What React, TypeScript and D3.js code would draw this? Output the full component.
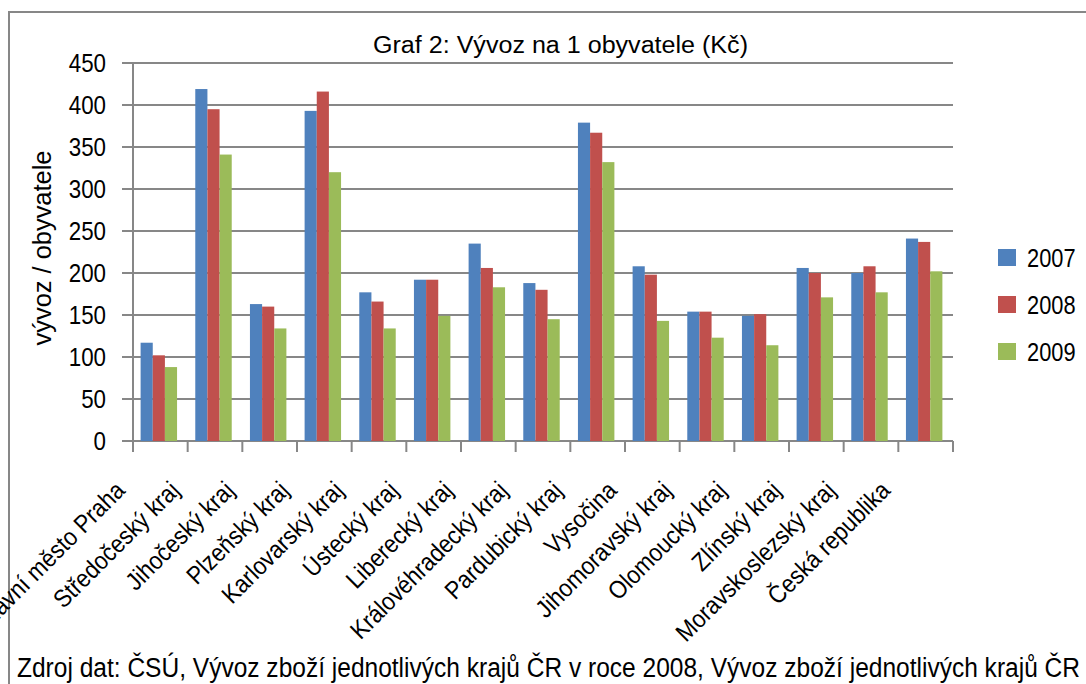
import React from "react";
import * as d3 from "d3";

const categories = [
  "Hlavní město Praha",
  "Středočeský kraj",
  "Jihočeský kraj",
  "Plzeňský kraj",
  "Karlovarský kraj",
  "Ústecký kraj",
  "Liberecký kraj",
  "Královéhradecký kraj",
  "Pardubický kraj",
  "Vysočina",
  "Jihomoravský kraj",
  "Olomoucký kraj",
  "Zlínský kraj",
  "Moravskoslezský kraj",
  "Česká republika",
];
const seriesNames = ["2007", "2008", "2009"];
const v2007 = [117, 419, 163, 393, 177, 192, 235, 188, 379, 208, 154, 149, 206, 200, 241];
const v2008 = [102, 395, 160, 416, 166, 192, 206, 180, 367, 198, 154, 151, 200, 208, 237];
const v2009 = [88, 341, 134, 320, 134, 149, 183, 145, 332, 143, 123, 114, 171, 177, 202];
const yTicks = [0, 50, 100, 150, 200, 250, 300, 350, 400, 450];
const colors = ["#4F81BD", "#C0504D", "#9BBB59"];

const titleText = "Graf 2: Vývoz na 1 obyvatele (Kč)";
const yTitle = "vývoz / obyvatele";
const footer = "Zdroj dat: ČSÚ, Vývoz zboží jednotlivých krajů ČR v roce 2008, Vývoz zboží jednotlivých krajů ČR";

const FONT = "'Liberation Sans Narrow', 'Arial Narrow', 'Liberation Sans', Arial, sans-serif";
const GRID = "#878787";

export default function App() {
  const W = 1086, H = 684;
  const left = 133, right = 953, top = 63, bottom = 441;
  const series = [v2007, v2008, v2009];
  const x = d3.scaleBand<string>().domain(categories).range([left, right]).padding(0);
  const bw = x.bandwidth();
  const gap = (bw * 1.5) / 4.5;
  const xs = d3.scaleBand<string>().domain(seriesNames).range([gap / 2 - 1.5, bw - gap / 2 - 1.5]).padding(0);
  const y = d3.scaleLinear().domain([0, 450]).range([bottom, top]);

  return (
    <svg width={W} height={H} style={{ position: "absolute", left: 0, top: 0, background: "#fff" }} fontFamily={FONT}>
      <rect x={9} y={12} width={1200} height={800} fill="#fff" stroke={GRID} strokeWidth={2} />
      {/* gridlines */}
      {yTicks.map((t) => (
        <line key={"g" + t} x1={left - 11} x2={right} y1={y(t)} y2={y(t)} stroke={GRID} strokeWidth={2} />
      ))}
      {/* y axis */}
      <line x1={left} x2={left} y1={top} y2={bottom + 11} stroke={GRID} strokeWidth={2} />
      {/* category ticks */}
      {categories.map((c, i) => (
        <line key={"t" + i} x1={x(c)!} x2={x(c)!} y1={bottom} y2={bottom + 11} stroke={GRID} strokeWidth={2} />
      ))}
      <line x1={right} x2={right} y1={bottom} y2={bottom + 11} stroke={GRID} strokeWidth={2} />
      {/* bars */}
      {series.map((vals, si) =>
        vals.map((v, i) => (
          <rect
            key={"b" + si + "-" + i}
            x={x(categories[i])! + xs(seriesNames[si])!}
            y={y(v)}
            width={xs.bandwidth()}
            height={bottom - y(v)}
            fill={colors[si]}
          />
        ))
      )}
      {/* y tick labels */}
      {yTicks.map((t) => (
        <text
          key={"yl" + t}
          transform={`translate(106,${y(t)}) scale(0.86,1)`}
          dy="0.36em"
          textAnchor="end"
          fontSize={26}
          fill="#000"
        >
          {t}
        </text>
      ))}
      {/* y title */}
      <text
        transform={`translate(51,248) rotate(-90)`}
        textAnchor="middle"
        fontSize={25}
        fill="#000"
        textLength={195}
        lengthAdjust="spacingAndGlyphs"
      >
        {yTitle}
      </text>
      {/* x labels */}
      {categories.map((c, i) => {
        const cx = x(c)! + bw / 2;
        return (
          <text
            key={"xl" + i}
            transform={`translate(${cx - 34},${492}) rotate(-45) scale(0.9,1)`}
            textAnchor="end"
            fontSize={25}
            fill="#000"
          >
            {c}
          </text>
        );
      })}
      {/* title */}
      <text x={373} y={53} fontSize={23} fill="#000" textLength={375} lengthAdjust="spacingAndGlyphs">
        {titleText}
      </text>
      {/* legend */}
      {seriesNames.map((s, i) => (
        <g key={"lg" + s} transform={`translate(998,${249 + i * 47})`}>
          <rect x={0} y={0} width={18} height={17} fill={colors[i]} />
          <text transform="translate(29,8.5) scale(0.84,1)" dy="0.36em" fontSize={26} fill="#000">
            {s}
          </text>
        </g>
      ))}
      {/* footer */}
      <text x={17} y={677} fontSize={27} fill="#000" textLength={1063} lengthAdjust="spacingAndGlyphs">
        {footer}
      </text>
    </svg>
  );
}
